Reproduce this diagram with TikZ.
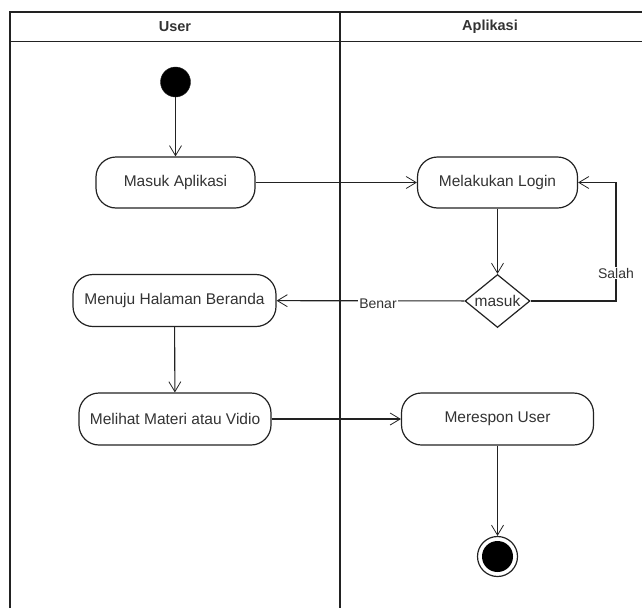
\documentclass[tikz,border=0pt]{standalone}
\usepackage{fontspec}
\setmainfont{Liberation Sans}
\usetikzlibrary{arrows.meta,shapes.geometric}
\definecolor{ink}{HTML}{222222}
\definecolor{txt}{HTML}{333333}
\begin{document}
\begin{tikzpicture}[x=1pt,y=-1pt,
  every node/.style={text=txt},
  lane/.style={draw=ink,line width=1.3pt},
  act/.style={draw=ink,line width=1.2pt,rounded corners=20pt,fill=white,
    inner sep=0pt,font=\fontsize{15.5}{18}\selectfont},
  head/.style={font=\bfseries\fontsize{14.5}{17}\selectfont},
  lbl/.style={fill=white,inner sep=1pt,font=\fontsize{14}{16}\selectfont},
  flow/.style={draw=ink,line width=1.1pt,-{Straight Barb[length=10pt,width=12pt,line width=0.8pt]}},
  plain/.style={draw=ink,line width=1.2pt}]
\useasboundingbox (0,0) rectangle (642,608);

% swimlanes
\draw[lane] (10,608) -- (10,12) -- (642,12);
\draw[lane] (10,41.5) -- (642,41.5);
\draw[lane] (340,12) -- (340,608);
\node[head] (hUser) at (175,27) {User};
\node[head] (hApp) at (490,27) {Aplikasi};

% activities
\node[circle,fill=black,draw=ink,minimum size=30pt,inner sep=0pt] (start) at (175.5,82) {};
\node[act,minimum width=159pt,minimum height=51pt] (masuk) at (175.5,182.5) {Masuk Aplikasi};
\node[act,minimum width=160pt,minimum height=51pt] (login) at (497.5,182.5) {Melakukan Login};
\node[diamond,draw=ink,line width=1.2pt,fill=white,inner sep=0pt,aspect=1.23,
      minimum width=65pt,minimum height=53pt] (dec) at (497.5,301) {};
\node[font=\fontsize{15.5}{18}\selectfont] (decText) at (dec.center) {masuk};
\node[act,minimum width=203pt,minimum height=52pt] (menuju) at (174.5,300.5) {Menuju Halaman Beranda};
\node[act,minimum width=192pt,minimum height=52pt] (melihat) at (175,419) {Melihat Materi atau Vidio};
\node[act,minimum width=192pt,minimum height=52pt] (respon) at (497.5,419) {Merespon User};
\node[circle,draw=ink,line width=1.2pt,minimum size=40pt,inner sep=0pt] (end) at (497.5,556.5) {};
\node[circle,fill=black,minimum size=31pt,inner sep=0pt] (endDot) at (end.center) {};

% flows
\coordinate (loopR) at (616,301);
\coordinate (loopT) at (616,182.5);
\draw[flow] (start) -- (masuk);
\draw[flow] (masuk) -- (login);
\draw[flow] (login) -- (dec);
\draw[flow] (dec) -- (menuju);
\draw[flow] (dec.east) -- (loopR) -- (loopT) -- (login.east);
\draw[flow] (menuju) -- (melihat);
\draw[flow] (melihat) -- (respon);
\draw[flow] (respon) -- (end);

% guard labels
\node[lbl] (benar) at (378,304) {Benar};
\node[lbl] (salah) at (616,273) {Salah};
\end{tikzpicture}
\end{document}
